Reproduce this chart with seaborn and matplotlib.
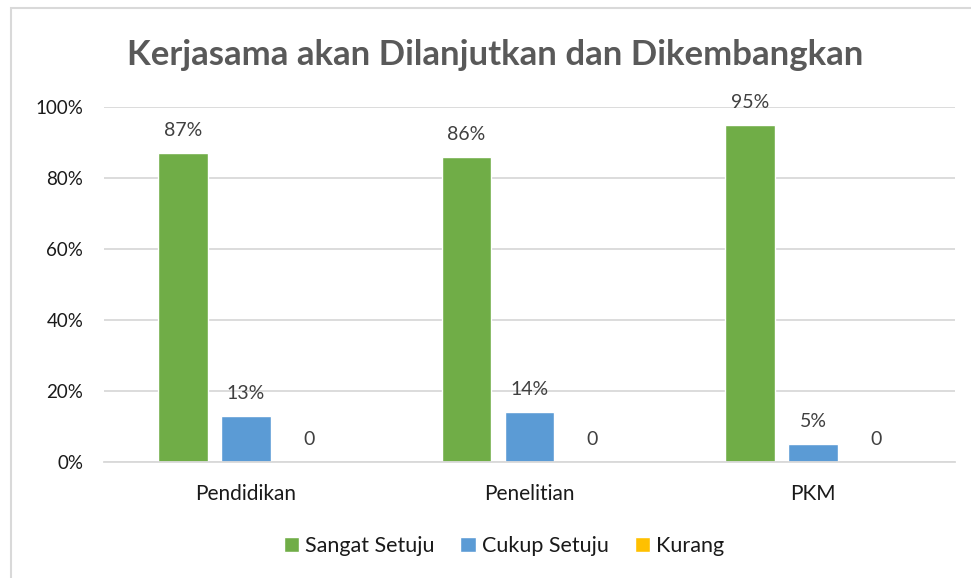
import matplotlib.pyplot as plt
import pandas as pd
import seaborn as sns
from matplotlib.patches import Rectangle

# data
categories = ['Pendidikan', 'Penelitian', 'PKM']
series = ['Sangat Setuju', 'Cukup Setuju', 'Kurang']
sangat_setuju = [0.87, 0.86, 0.95]
cukup_setuju = [0.13, 0.14, 0.05]
kurang = [0.0, 0.0, 0.0]
labels_sangat = ['87%', '86%', '95%']
labels_cukup = ['13%', '14%', '5%']
labels_kurang = ['0', '0', '0']
colors = ['#70AD47', '#5B9BD5', '#FFC000']

df = pd.DataFrame({
    'kategori': categories * 3,
    'seri': [s for s in series for _ in categories],
    'nilai': sangat_setuju + cukup_setuju + kurang,
})

sns.set_style('white')
plt.rcParams['font.family'] = ['Lato', 'DejaVu Sans']

fig = plt.figure(figsize=(9.71, 5.78), dpi=100)
ax = fig.add_axes([0.1071, 0.2007, 0.8764, 0.6142])

sns.barplot(data=df, x='kategori', y='nilai', hue='seri', order=categories,
            hue_order=series, palette=colors, width=0.666, gap=0.21,
            saturation=1, ax=ax, legend=True)

ax.set_ylim(0, 1.0)
ax.set_xlim(-0.5, 2.5)
ax.set_yticks([0, 0.2, 0.4, 0.6, 0.8, 1.0])
ax.set_yticklabels(['0%', '20%', '40%', '60%', '80%', '100%'], fontsize=13.5, color='#1a1a1a')
ax.tick_params(axis='x', labelsize=15, colors='#1a1a1a', length=0, pad=16)
ax.tick_params(axis='y', length=0, pad=15)
ax.set_xlabel('')
ax.set_ylabel('')
ax.grid(axis='y', color='#D9D9D9', linewidth=1.3)
ax.set_axisbelow(True)
for s in ['top', 'right', 'left']:
    ax.spines[s].set_visible(False)
ax.spines['bottom'].set_color('#D9D9D9')
ax.spines['bottom'].set_linewidth(1.3)

all_labels = [labels_sangat, labels_cukup, labels_kurang]
for cont, labs in zip(ax.containers, all_labels):
    ax.bar_label(cont, labels=labs, padding=10, fontsize=14, color='#404040')

ax.legend(loc='center', bbox_to_anchor=(504 / 971, 1 - 546 / 578), bbox_transform=fig.transFigure,
          ncol=3, frameon=False,
          fontsize=15.5, handlelength=0.7, handleheight=0.7, handletextpad=0.3,
          columnspacing=1.2, labelcolor='#1a1a1a')

fig.text(495 / 971, 1 - 55 / 578, 'Kerjasama akan Dilanjutkan dan Dikembangkan', ha='center',
         va='center', fontsize=25, fontweight='bold', color='#595959')

fig.patches.append(Rectangle((11 / 971, -0.05), 1.1, 1 - 8 / 578 + 0.05,
                             transform=fig.transFigure, fill=False,
                             edgecolor='#D9D9D9', linewidth=1.5))

fig.savefig('out.png', dpi=100)
